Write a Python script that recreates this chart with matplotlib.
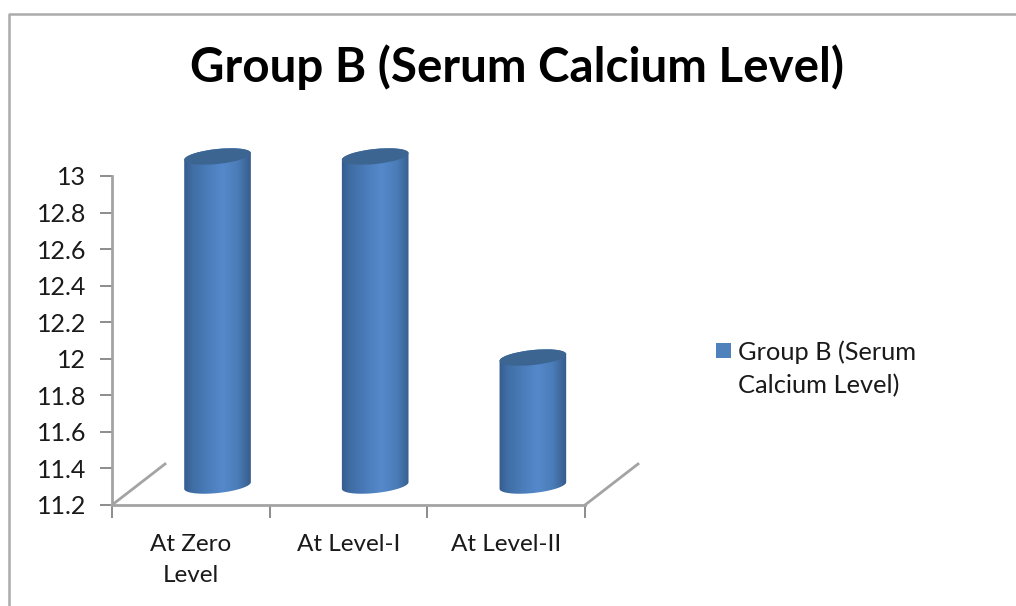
import numpy as np
import matplotlib
matplotlib.use('Agg')
import matplotlib.pyplot as plt
from matplotlib.colors import LinearSegmentedColormap
from matplotlib.patches import Ellipse, Rectangle
from matplotlib.path import Path
from matplotlib.transforms import IdentityTransform

# data
categories = ['At Zero\nLevel', 'At Level-I', 'At Level-II']
values = [13, 13, 11.9]
y_ticks = [11.2, 11.4, 11.6, 11.8, 12, 12.2, 12.4, 12.6, 12.8, 13]
y_tick_labels = ['11.2', '11.4', '11.6', '11.8', '12', '12.2', '12.4', '12.6', '12.8', '13']
series_name = 'Group B (Serum\nCalcium Level)'
title = 'Group B (Serum Calcium Level)'

W, H = 1016, 606
plt.rcParams['font.family'] = ['Lato', 'DejaVu Sans']

fig = plt.figure(figsize=(W / 100, H / 100), dpi=100)
ax = fig.add_axes([112 / W, 1 - 505 / H, 473 / W, 329 / H])
ax.set_xlim(0, 3)
ax.set_ylim(11.2, 13)
ax.patch.set_alpha(0)

axis_col = '#a3a3a3'
for s in ['top', 'right']:
    ax.spines[s].set_visible(False)
for s in ['left', 'bottom']:
    ax.spines[s].set_color(axis_col)
    ax.spines[s].set_linewidth(2.0)

ax.set_yticks(y_ticks)
ax.set_yticklabels(y_tick_labels, fontsize=18, color='#1a1a1a')
ax.set_xticks([0, 1, 2, 3])
ax.set_xticklabels([])
ax.tick_params(axis='both', color='#8c8c8c', width=1.4, length=9)
ax.tick_params(axis='y', pad=9.5)

# category labels under the axis
for i, c in enumerate(categories):
    ax.annotate(c, (i + 0.5, 11.2), xytext=(0, -29), textcoords='offset pixels',
                ha='center', va='top', fontsize=17.5, color='#1a1a1a', linespacing=1.6)

# floor diagonals going back from the axis corners
depth_x, depth_y = 53, 41
for x0 in [0, 3]:
    p = ax.transData.transform((x0, 11.2))
    ax.plot([p[0], p[0] + depth_x], [p[1], p[1] + depth_y], color=axis_col, lw=2,
            transform=IdentityTransform(), clip_on=False)

# cylinders, worked out in pixels from the axis scale
cmap = LinearSegmentedColormap.from_list('cyl', [
    (0, '#33598a'), (0.12, '#3f6ca3'), (0.35, '#4a7cb9'), (0.58, '#5589cb'),
    (0.8, '#4a7cb8'), (0.95, '#3a6394'), (1, '#355b88')])
grad = np.linspace(0, 1, 256).reshape(1, -1)
half_w, ell_h, tilt = 33.5, 15, 6
dx, dy = 26.7, 19.5
inv = ax.transData.inverted()


def arc(cx, cy, start, end, n=40):
    t = np.radians(np.linspace(start, end, n))
    x, y = half_w * np.cos(t), ell_h / 2 * np.sin(t)
    a = np.radians(tilt)
    return np.c_[cx + x * np.cos(a) - y * np.sin(a), cy + x * np.sin(a) + y * np.cos(a)]


for i, v in enumerate(values):
    bx, by = ax.transData.transform((i + 0.5, 11.2)) + (dx, dy)
    tx, ty = ax.transData.transform((i + 0.5, v)) + (dx, dy)
    outline = np.vstack([arc(bx, by, 180, 360), arc(tx, ty, 0, 180)])
    clip = Path(np.vstack([outline, outline[0]]), closed=True)
    (x0, y0) = inv.transform((bx - half_w - 1, by - 14))
    (x1, y1) = inv.transform((bx + half_w + 1, ty + 12))
    im = ax.imshow(grad, cmap=cmap, extent=(x0, x1, y0, y1), aspect='auto',
                   interpolation='bilinear', zorder=3)
    im.set_clip_box(fig.bbox)
    im.set_clip_path(clip, IdentityTransform())
    ax.add_patch(Ellipse((tx, ty), half_w * 2, ell_h, angle=tilt, fc='#3d6592', ec='none',
                         transform=IdentityTransform(), zorder=4, clip_on=False))
ax.set_xlim(0, 3)
ax.set_ylim(11.2, 13)

# title, legend, frame
fig.text(517 / W, 1 - 67 / H, title, ha='center', va='center', fontsize=34.2, fontweight='bold',
         color='black')
fig.add_artist(Rectangle((716 / W, 1 - 358 / H), 15 / W, 15 / H, fc='#4f81bd', ec='none',
                         transform=fig.transFigure))
fig.text(738 / W, 1 - 369 / H, series_name, ha='left', va='center', fontsize=18.3, color='#1a1a1a',
         linespacing=1.55)
fig.add_artist(plt.Line2D([9 / W, 9 / W, 1], [0, 1 - 13.5 / H, 1 - 13.5 / H],
                          color='#ababab', lw=1.8, transform=fig.transFigure))

fig.savefig('out.png', dpi=100)
